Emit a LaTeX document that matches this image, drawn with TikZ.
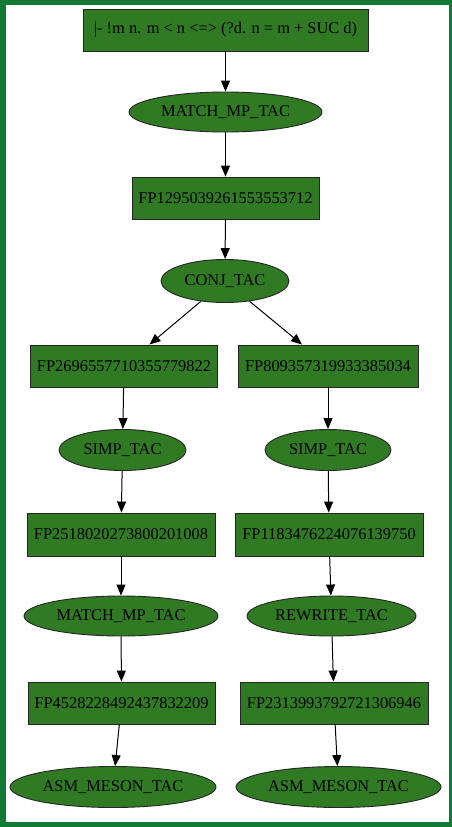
\documentclass[tikz,border=0pt]{standalone}
\usepackage{fontspec}
\setmainfont{Liberation Serif}
\usetikzlibrary{shapes.geometric,arrows.meta}
\definecolor{framegreen}{HTML}{137A35}
\definecolor{nodegreen}{HTML}{2F7A22}
\tikzset{
  base/.style={draw=black!85, line width=0.9pt, fill=nodegreen, inner sep=0pt,
    font=\fontsize{16.4}{18}\selectfont, text=black},
  goal/.style={base, rectangle, minimum height=42pt},
  tactic/.style={base, ellipse, minimum height=41pt},
  link/.style={line width=1pt, -{Triangle[length=11pt,width=9pt]}},
}
\begin{document}
\begin{tikzpicture}[x=1pt,y=-1pt]
  % outer frame
  \fill[framegreen] (0,0) rectangle (452,827);
  \fill[white] (6,5) rectangle (448.5,822);
  \useasboundingbox (0,0) rectangle (452,827);

  % nodes
  \node[goal, minimum width=285pt] (top) at (225.5,30) {|- !m n. m < n <=> (?d. n = m + SUC d)};
  \node[tactic, minimum width=193pt, minimum height=40pt] (m1) at (225.5,112) {MATCH\_MP\_TAC};
  \node[goal, minimum width=187pt] (f1) at (225.5,198) {FP1295039261553553712};
  \node[tactic, minimum width=128pt, minimum height=43pt] (conj) at (225,281) {CONJ\_TAC};

  \node[goal, minimum width=187pt] (fl1) at (124,366) {FP2696557710355779822};
  \node[goal, minimum width=180pt] (fr1) at (328,366) {FP809357319933385034};
  \node[tactic, minimum width=127pt] (sl) at (122.5,450) {SIMP\_TAC};
  \node[tactic, minimum width=126pt] (sr) at (328,450) {SIMP\_TAC};
  \node[goal, minimum width=188pt, minimum height=43pt] (fl2) at (121,534.5) {FP2518020273800201008};
  \node[goal, minimum width=188pt, minimum height=43pt] (fr2) at (329,534.5) {FP1183476224076139750};
  \node[tactic, minimum width=194pt, minimum height=40pt] (ml) at (121,616) {MATCH\_MP\_TAC};
  \node[tactic, minimum width=169pt, minimum height=40pt] (rr) at (331.5,616) {REWRITE\_TAC};
  \node[goal, minimum width=187pt] (fl3) at (121.5,703) {FP4528228492437832209};
  \node[goal, minimum width=188pt] (fr3) at (334,703) {FP2313993792721306946};
  \node[tactic, minimum width=206pt] (al) at (113,787) {ASM\_MESON\_TAC};
  \node[tactic, minimum width=205pt] (ar) at (338.5,787) {ASM\_MESON\_TAC};

  % connectors
  \draw[link] (top) -- (m1);
  \draw[link] (m1) -- (f1);
  \draw[link] (f1) -- (conj);
  \draw[link] (conj) -- (fl1);
  \draw[link] (conj) -- (fr1);
  \draw[link] (fl1) -- (sl);
  \draw[link] (fr1) -- (sr);
  \draw[link] (sl) -- (fl2);
  \draw[link] (sr) -- (fr2);
  \draw[link] (fl2) -- (ml);
  \draw[link] (fr2) -- (rr);
  \draw[link] (ml) -- (fl3);
  \draw[link] (rr) -- (fr3);
  \draw[link] (fl3) -- (al);
  \draw[link] (fr3) -- (ar);
\end{tikzpicture}
\end{document}
